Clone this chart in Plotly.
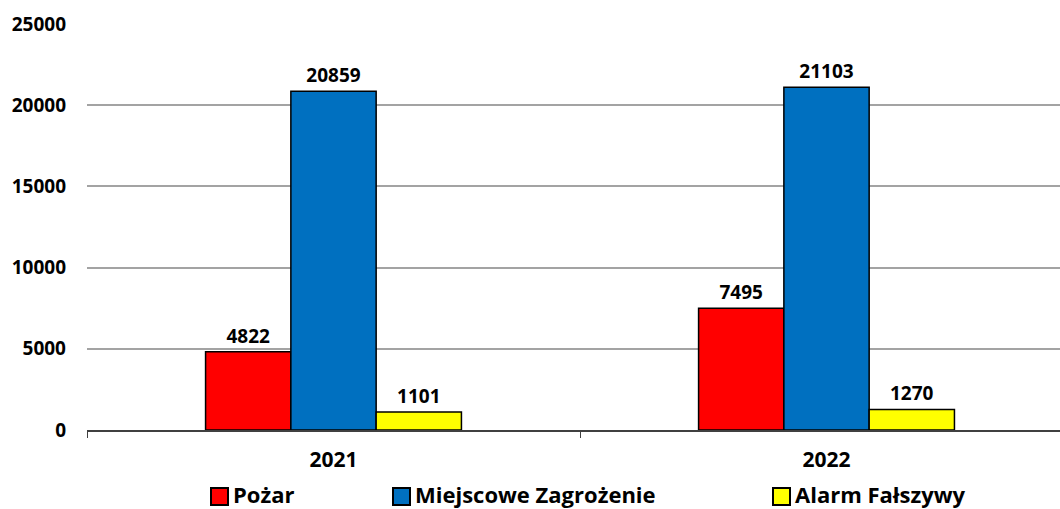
import plotly.graph_objects as go

years = ["2021", "2022"]
series_names = ["Pożar", "Miejscowe Zagrożenie", "Alarm Fałszywy"]
pozar = [4822, 7495]
miejscowe = [20859, 21103]
alarm = [1101, 1270]
colors = ["#FF0000", "#0070C0", "#FFFF00"]
y_ticks = [0, 5000, 10000, 15000, 20000, 25000]

FONT = "Open Sans"

W, H = 1060, 509
ml, mr, mt, mb = 87, 0, 24, 509 - 430
pw = W - ml - mr
ph = H - mt - mb

def lx(px):  # window pixel -> paper x
    return (px - ml) / pw

def ly(py):  # window pixel -> paper y
    return (H - mb - py) / ph

fig = go.Figure()
for name, vals, col in zip(series_names, [pozar, miejscowe, alarm], colors):
    fig.add_trace(go.Bar(
        x=years, y=vals, name=name,
        marker=dict(color=col, line=dict(color="black", width=1.5)),
        text=[str(v) for v in vals], textposition="outside",
        textfont=dict(family=FONT, size=19, color="black", weight="bold"),
        cliponaxis=False, showlegend=False,
    ))

# manual legend (squares + labels)
legend_sq_left = [211, 393, 773]
sq = 17
shapes, annotations = [], []
for name, col, x0 in zip(series_names, colors, legend_sq_left):
    shapes.append(dict(type="rect", xref="paper", yref="paper",
                       x0=lx(x0), x1=lx(x0 + sq), y0=ly(488), y1=ly(505),
                       fillcolor=col, line=dict(color="black", width=2)))
    annotations.append(dict(xref="paper", yref="paper", x=lx(x0 + sq + 3), y=ly(494),
                            xanchor="left", yanchor="middle", showarrow=False,
                            text=name,
                            font=dict(family=FONT, size=22, color="black", weight="bold")))

fig.update_layout(
    width=W, height=H,
    margin=dict(l=ml, r=mr, t=mt, b=mb, autoexpand=False),
    paper_bgcolor="white", plot_bgcolor="white",
    barmode="group", bargap=0.481, bargroupgap=0,
    showlegend=False,
    shapes=shapes, annotations=annotations,
    xaxis=dict(
        type="category", range=[-0.5, 1.4736], automargin=False,
        showline=True, linecolor="#404040", linewidth=1.5,
        ticks="outside", tickson="boundaries", ticklen=6, tickcolor="#404040",
        tickfont=dict(family=FONT, size=21, color="black", weight="bold"),
        ticklabelstandoff=10, showgrid=False,
    ),
    yaxis=dict(
        range=[0, 25000], tickvals=y_ticks, ticktext=[str(v) for v in y_ticks],
        automargin=False,
        showgrid=True, gridcolor="#A3A3A3", gridwidth=2,
        zeroline=False, showline=False,
        tickfont=dict(family=FONT, size=19, color="black", weight="bold"),
        ticklabelstandoff=20,
    ),
)

fig.write_html(
    "out.html",
    config={"displayModeBar": False},
    post_script="document.body.style.margin='0';document.body.style.overflow='hidden';",
)
